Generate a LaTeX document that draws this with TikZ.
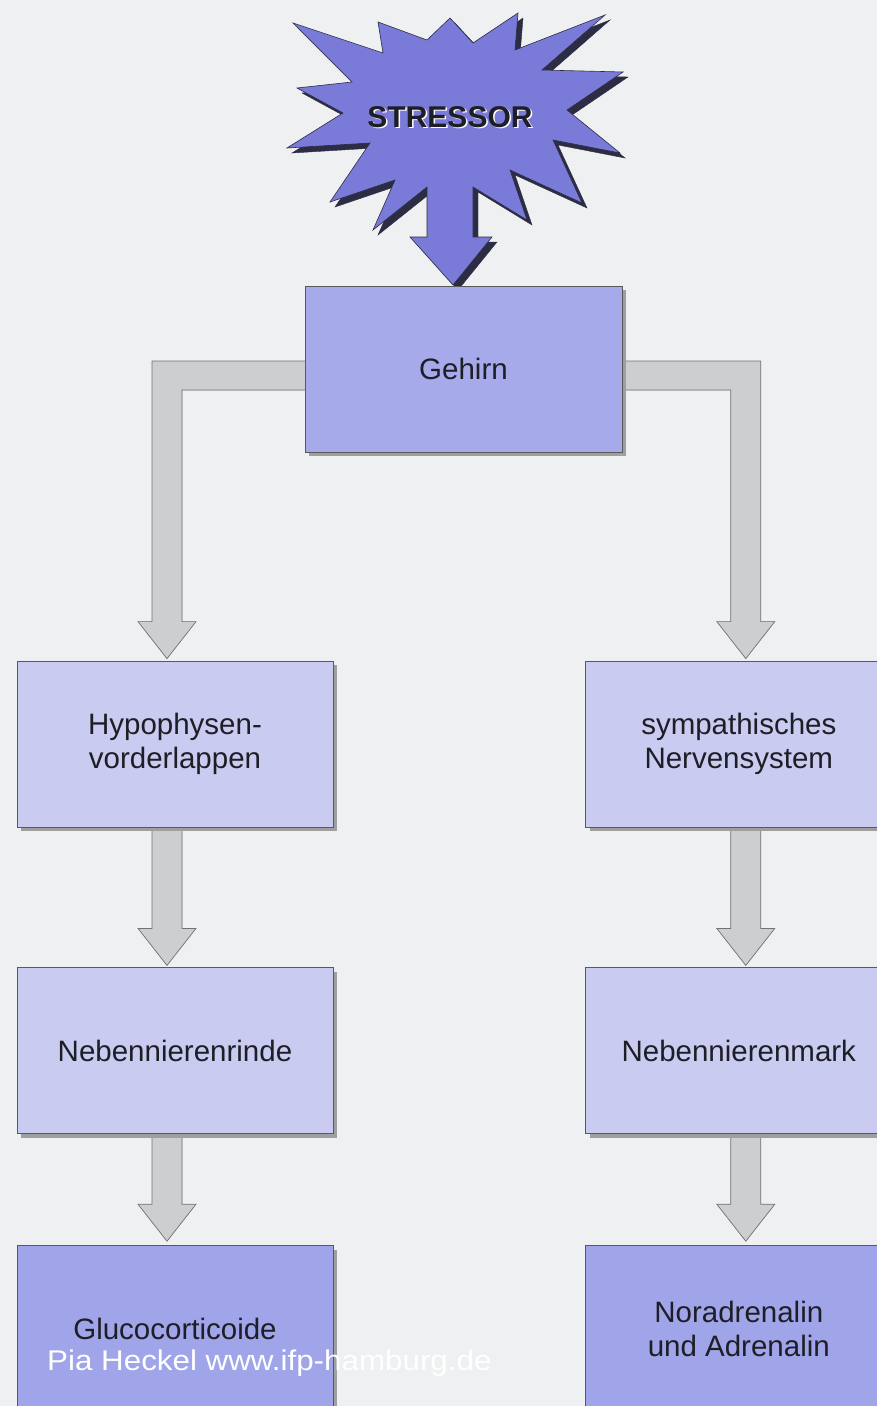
\documentclass[tikz,border=0pt]{standalone}
\usepackage{fontspec}
\setmainfont{Liberation Sans}
\newfontfamily\wmfont{Liberation Sans}[FakeStretch=1.1]
\usepackage{tikz}
\usetikzlibrary{positioning, calc, shadows, backgrounds}
\definecolor{paper}{HTML}{EEF0F1}
\definecolor{burstblue}{HTML}{7A7AD8}
\definecolor{burstdark}{HTML}{2C2C44}
\definecolor{boxlight}{HTML}{C9CBF0}
\definecolor{boxmid}{HTML}{A6A9EA}
\definecolor{boxdark}{HTML}{A0A4E8}
\definecolor{arrowgray}{HTML}{CDCED0}
\definecolor{inkgray}{HTML}{1E1E26}
\tikzset{
  stage/.style={
    draw=black!65,
    line width=0.8pt,
    minimum width=316pt,
    minimum height=166pt,
    align=center,
    text=inkgray,
    font=\fontsize{29.5}{34}\selectfont,
    inner sep=0pt,
    drop shadow={shadow xshift=4pt, shadow yshift=-4pt, fill=gray!75, opacity=1}
  },
  burstbody/.style={fill=burstblue, draw=burstdark, line width=0.6pt},
  burstshadow/.style={fill=burstdark, draw=burstdark},
  arrowbody/.style={fill=arrowgray, draw=black!55, line width=0.7pt},
  arrowshadow/.style={fill=black!45},
  shout/.style={font=\bfseries\fontsize{30}{34}\selectfont}
}
% fat grey arrow straight down, from #1 to the tip #2
\newcommand{\fatdown}[2]{%
  \foreach \sty/\dx/\dy in {arrowshadow/5/-4, arrowbody/0/0}
    \path[\sty, xshift=\dx pt, yshift=\dy pt] let \p1=(#1), \p2=(#2) in
      ({\x1-15pt},\y1) -- ({\x1-15pt},{\y2+37pt}) -- ({\x1-29pt},{\y2+37pt}) -- (\x1,\y2)
      -- ({\x1+29pt},{\y2+37pt}) -- ({\x1+15pt},{\y2+37pt}) -- ({\x1+15pt},\y1) -- cycle;
}
% fat grey elbow arrow, sideways then down; #3 = 1 going left, -1 going right
\newcommand{\fatelbow}[3]{%
  \foreach \sty/\dx/\dy in {arrowshadow/5/-4, arrowbody/0/0}
    \path[\sty, xshift=\dx pt, yshift=\dy pt] let \p1=(#1), \p2=(#2) in
      (\x1,{\y1+14.5pt}) -- ({\x2-(#3)*15pt},{\y1+14.5pt}) -- ({\x2-(#3)*15pt},{\y2+37pt})
      -- ({\x2-(#3)*29pt},{\y2+37pt}) -- (\x2,\y2) -- ({\x2+(#3)*29pt},{\y2+37pt})
      -- ({\x2+(#3)*15pt},{\y2+37pt}) -- ({\x2+(#3)*15pt},{\y1-14.5pt}) -- (\x1,{\y1-14.5pt}) -- cycle;
}

\begin{document}
\begin{tikzpicture}[x=1pt, y=-1pt]
  \useasboundingbox (0,0) rectangle (877,1406);

  % the stressor burst with its arrow
  \foreach \sty/\d in {burstshadow/5, burstbody/0}
    \filldraw[\sty, shift={(\d,\d)}] (450,18) -- (427,40) -- (378,22) -- (383,53) -- (293,23)
      -- (352,82) -- (297,88) -- (343,113) -- (287,148) -- (370,143) -- (330,202)
      -- (395,180) -- (373,230) -- (427,187) -- (427,237) -- (410,237) -- (453,285)
      -- (492,237) -- (473,237) -- (473,187) -- (527,220) -- (510,170) -- (582,203)
      -- (553,140) -- (620,153) -- (567,110) -- (623,72) -- (542,70) -- (605,15)
      -- (515,50) -- (518,13) -- (473,43) -- cycle;
  \node[shout, text=white] (halo) at (451.5,118.5) {STRESSOR};
  \node[shout, text=inkgray] (stressor) at (450,117) {STRESSOR};

  \node[stage, fill=boxmid, minimum width=317pt] (gehirn) at (463.5,369) {Gehirn};

  \node[stage, fill=boxlight] (hyp) at (175,744) {Hypophysen-\\vorderlappen};
  \node[stage, fill=boxlight, minimum width=306pt, right=252pt of hyp] (sym) {sympathisches\\Nervensystem};
  \node[stage, fill=boxlight, below=140pt of hyp] (nnr) {Nebennierenrinde};
  \node[stage, fill=boxlight, minimum width=306pt, below=140pt of sym] (nnm) {Nebennierenmark};
  \node[stage, fill=boxdark, below=111pt of nnr] (gluco) {Glucocorticoide};
  \node[stage, fill=boxdark, minimum width=306pt, below=111pt of nnm] (nora) {Noradrenalin\\und Adrenalin};

  \begin{scope}[on background layer]
    \fill[paper] (0,0) rectangle (877,1406);
    \fatelbow{$(gehirn.center)+(0,6.5)$}{$(hyp.north)+(-8,-2)$}{1}
    \fatelbow{$(gehirn.center)+(0,6.5)$}{$(sym.north)+(7,-2)$}{-1}
    \fatdown{$(hyp.south)+(-8,0)$}{$(nnr.north)+(-8,-2)$}
    \fatdown{$(sym.south)+(7,0)$}{$(nnm.north)+(7,-2)$}
    \fatdown{$(nnr.south)+(-8,0)$}{$(gluco.north)+(-8,-4)$}
    \fatdown{$(nnm.south)+(7,0)$}{$(nora.north)+(7,-4)$}
  \end{scope}

  \node[anchor=base west, text=white, font=\wmfont\fontsize{28.5}{34}\selectfont, inner sep=0pt] (credit) at (47,1370) {Pia Heckel www.ifp-hamburg.de};
\end{tikzpicture}
\end{document}
